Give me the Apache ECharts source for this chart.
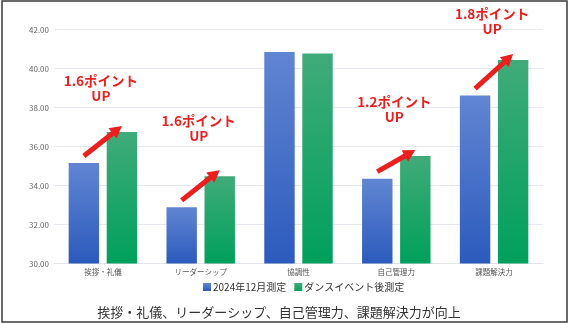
<!DOCTYPE html>
<html lang="ja">
<head>
<meta charset="utf-8">
<title>測定結果比較</title>
<script src="https://cdn.jsdelivr.net/npm/echarts@6/dist/echarts.min.js"></script>
<style>
  html, body { margin: 0; padding: 0; background: #fff; }
  #chart { width: 569px; height: 324px; }
</style>
</head>
<body>
<div id="chart"></div>
<script>
// Categories and measured scores
const categories = ['挨拶・礼儀', 'リーダーシップ', '協調性', '自己管理力', '課題解決力'];
const seriesNames = ['2024年12月測定', 'ダンスイベント後測定'];
const beforeValues = [35.15, 32.88, 40.84, 34.35, 38.61];
const afterValues = [36.75, 34.48, 40.77, 35.51, 40.43];
// Categories that get an improvement arrow and label
const highlighted = [0, 1, 3, 4];
const yTicks = { min: 30, max: 42, interval: 2 };
const caption = '挨拶・礼儀、リーダーシップ、自己管理力、課題解決力が向上';

const JP_FONT = '"Noto Sans CJK JP", "Noto Sans", sans-serif';
const RED = '#ec1f1f';
const BAR_CAT_GAP = 0.30;
const BAR_GAP = 0.25;
// Label lift above the green bar top, in px, per highlighted category
const labelLift = { 0: 36, 1: 40, 3: 39, 4: 31 };

const chart = echarts.init(document.getElementById('chart'), null, { renderer: 'canvas' });

function barGradient(top, bottom) {
  return new echarts.graphic.LinearGradient(0, 0, 0, 1, [
    { offset: 0, color: top },
    { offset: 1, color: bottom }
  ]);
}

// Arrow/label data: [categoryIndex, before, after]
const arrowData = highlighted.map(i => [i, beforeValues[i], afterValues[i]]);

function renderArrow(params, api) {
  const idx = api.value(0);
  const catW = api.size([1, 0])[0];
  const bw = catW * (1 - BAR_CAT_GAP) / (2 + BAR_GAP);
  const off = bw * (1 + BAR_GAP) / 2;
  const p0 = api.coord([idx, api.value(1)]);
  const p1 = api.coord([idx, api.value(2)]);
  const x0 = p0[0] - off, y0 = p0[1] - 7;
  const x1 = p1[0] + off, y1 = p1[1] - 6;
  const ang = Math.atan2(y1 - y0, x1 - x0);
  const headLen = 12, headHalf = 6.5;
  const bx = x1 - headLen * Math.cos(ang);
  const by = y1 - headLen * Math.sin(ang);
  const nx = -Math.sin(ang), ny = Math.cos(ang);
  return {
    type: 'group',
    children: [
      {
        type: 'line',
        shape: { x1: x0, y1: y0, x2: bx + Math.cos(ang), y2: by + Math.sin(ang) },
        style: { stroke: RED, lineWidth: 5, lineCap: 'butt' }
      },
      {
        type: 'polygon',
        shape: { points: [[x1, y1], [bx + nx * headHalf, by + ny * headHalf], [bx - nx * headHalf, by - ny * headHalf]] },
        style: { fill: RED }
      }
    ]
  };
}

function renderNote(params, api) {
  const idx = api.value(0);
  const diff = (api.value(2) - api.value(1)).toFixed(1);
  const p = api.coord([idx, api.value(2)]);
  const lift = labelLift[idx] || 36;
  const font = 'bold 13.5px ' + JP_FONT;
  return {
    type: 'group',
    children: [
      {
        type: 'text',
        x: p[0] - 2, y: p[1] - lift - 15,
        style: { text: diff + 'ポイント', fill: RED, font: font, align: 'center', verticalAlign: 'middle' }
      },
      {
        type: 'text',
        x: p[0] - 2, y: p[1] - lift,
        style: { text: 'UP', fill: RED, font: font, align: 'center', verticalAlign: 'middle' }
      }
    ]
  };
}

chart.setOption({
  animation: false,
  backgroundColor: '#ffffff',
  textStyle: { fontFamily: JP_FONT },
  grid: { left: 54, right: 26, top: 29.5, bottom: 60.5, containLabel: false },
  legend: {
    data: seriesNames,
    left: 198, top: 277,
    itemWidth: 8, itemHeight: 8, itemGap: 8,
    icon: 'rect',
    textStyle: { fontSize: 10, color: '#333', padding: [0, 0, 0, -3] }
  },
  xAxis: {
    type: 'category',
    data: categories,
    axisLine: { show: true, lineStyle: { color: '#e2e5ea' } },
    axisTick: { show: false },
    axisLabel: { fontSize: 7.5, color: '#555', margin: 5 }
  },
  yAxis: {
    type: 'value',
    min: yTicks.min, max: yTicks.max, interval: yTicks.interval,
    axisLine: { show: false },
    axisTick: { show: false },
    splitLine: { lineStyle: { color: '#e6e9ef', width: 1 } },
    axisLabel: {
      fontSize: 8, color: '#666', margin: 5,
      formatter: v => v.toFixed(2)
    }
  },
  series: [
    {
      name: seriesNames[0],
      type: 'bar',
      data: beforeValues,
      barCategoryGap: (BAR_CAT_GAP * 100) + '%',
      barGap: (BAR_GAP * 100) + '%',
      itemStyle: { color: barGradient('#6185d2', '#2c5bbd') }
    },
    {
      name: seriesNames[1],
      type: 'bar',
      data: afterValues,
      barCategoryGap: (BAR_CAT_GAP * 100) + '%',
      barGap: (BAR_GAP * 100) + '%',
      itemStyle: { color: barGradient('#40ab7a', '#00a05c') }
    },
    {
      type: 'custom',
      renderItem: renderArrow,
      data: arrowData,
      z: 5,
      silent: true
    },
    {
      type: 'custom',
      renderItem: renderNote,
      data: arrowData,
      z: 6,
      silent: true
    }
  ],
  graphic: [
    {
      type: 'text',
      x: 279, y: 312,
      style: { text: caption, font: '13px ' + JP_FONT, fill: '#333', align: 'center', verticalAlign: 'middle' }
    },
    {
      type: 'rect',
      shape: { x: 2, y: 1, width: 565, height: 321 },
      style: { fill: 'none', stroke: '#3a3a3a', lineWidth: 1.5 },
      silent: true
    }
  ]
});
</script>
</body>
</html>
